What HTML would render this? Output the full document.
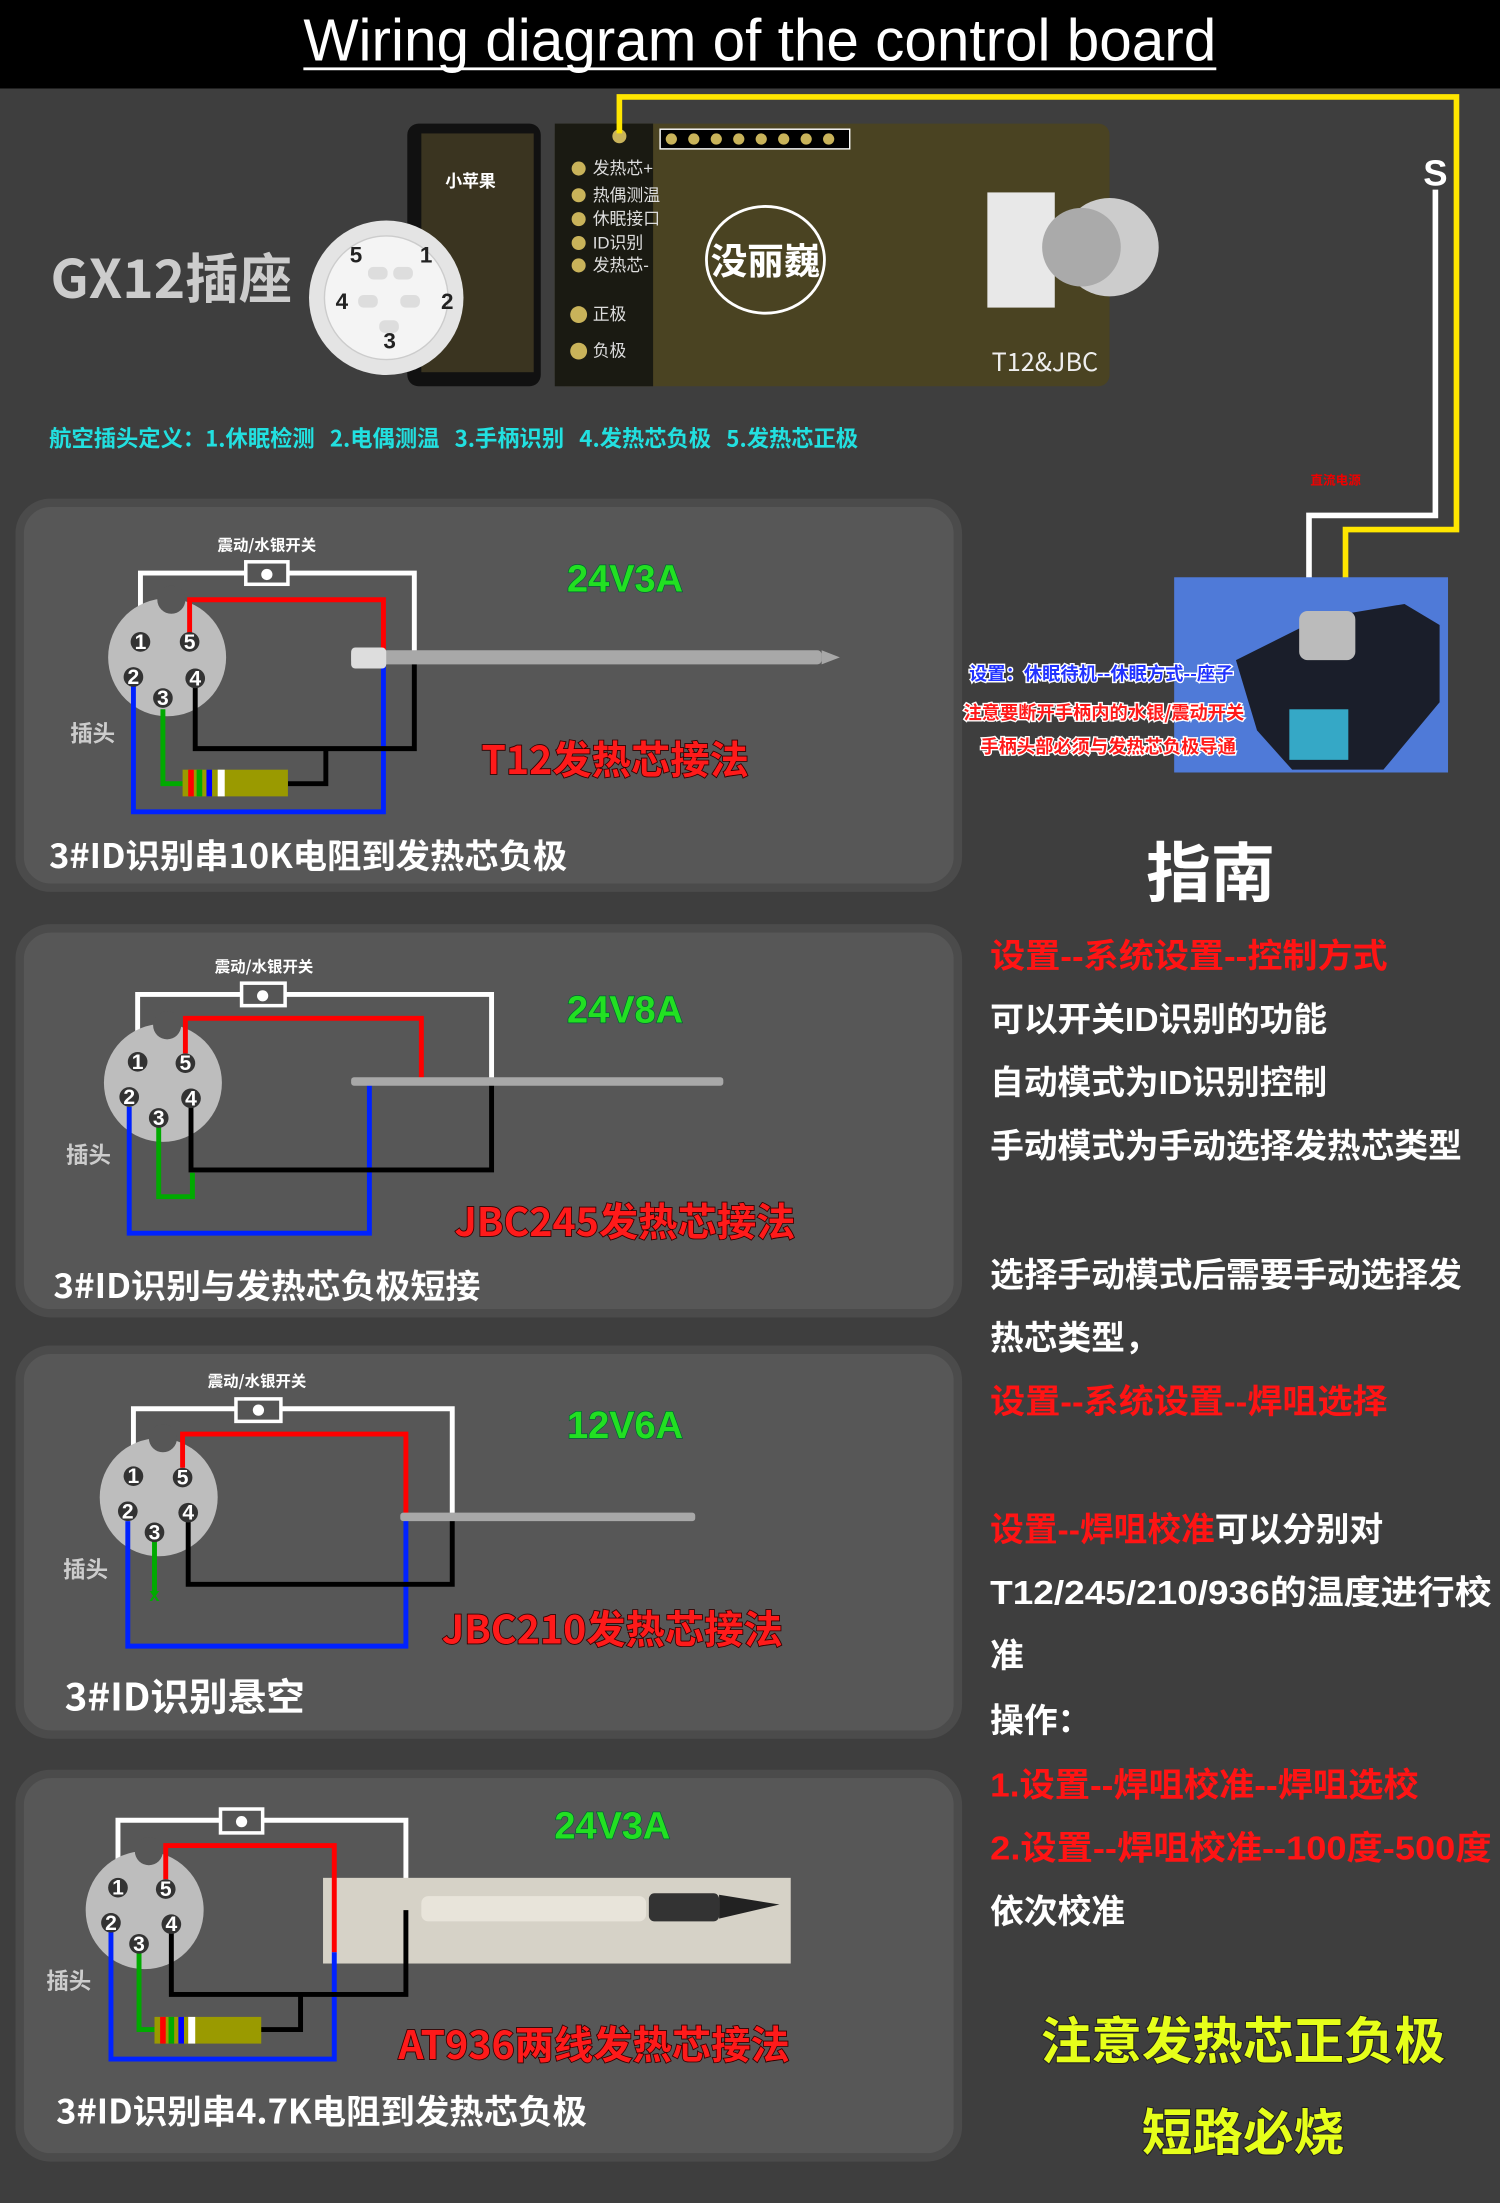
<!DOCTYPE html>
<html><head><meta charset="utf-8"><style>
html,body{margin:0;padding:0;background:#3e3e3e;}
svg{display:block;}
text{font-family:"Liberation Sans","Noto Sans CJK SC",sans-serif;}
.cj{font-family:"Noto Sans CJK SC","WenQuanYi Zen Hei",sans-serif;font-weight:700;}
.w{fill:none;stroke-width:3.5;stroke-linejoin:miter;}
.pin{fill:#333;}
.pn{fill:#fff;font-size:15px;font-weight:700;text-anchor:middle;}
.red{fill:#ff1a1a;stroke:#300;stroke-width:1.2;paint-order:stroke;}
.grn{fill:#22e022;stroke:#063;stroke-width:1;paint-order:stroke;}
.gd{fill:#fff;font-size:24px;}
.gr{fill:#ff1414;font-size:24px;}
</style></head><body>
<svg width="1500" height="2203" viewBox="0 0 1068 1568.5" preserveAspectRatio="none" xmlns="http://www.w3.org/2000/svg">
<rect x="0" y="0" width="1068" height="1569" fill="#3e3e3e"/>
<rect x="0" y="0" width="1068" height="63" fill="#000"/>
<text x="541" y="43" text-anchor="middle" fill="#fff" font-size="42" textLength="650" lengthAdjust="spacingAndGlyphs">Wiring diagram of the control board</text>
<rect x="216" y="48" width="650" height="2" fill="#fff"/>

<!-- PCB -->
<rect x="290" y="88" width="95" height="187" rx="8" fill="#111"/>
<rect x="395" y="88" width="395" height="187" rx="8" fill="#4a4322"/>
<rect x="395" y="88" width="70" height="187" fill="#1a1a12"/>
<rect x="300" y="95" width="80" height="170" fill="#3a3420"/>
<rect x="470" y="92" width="135" height="14" fill="#000" stroke="#fff" stroke-width="1"/>
<g fill="#c9b35a"><circle cx="478" cy="99" r="4"/><circle cx="494" cy="99" r="4"/><circle cx="510" cy="99" r="4"/><circle cx="526" cy="99" r="4"/><circle cx="542" cy="99" r="4"/><circle cx="558" cy="99" r="4"/><circle cx="574" cy="99" r="4"/><circle cx="590" cy="99" r="4"/><circle cx="441" cy="97" r="5"/></g>
<g fill="#ddd" font-size="12" class="cj" style="font-weight:400"><text x="422" y="124">发热芯+</text><text x="422" y="143">热偶测温</text><text x="422" y="160">休眠接口</text><text x="422" y="177">ID识别</text><text x="422" y="193">发热芯-</text><text x="422" y="228">正极</text><text x="422" y="254">负极</text></g>
<g fill="#c9b35a"><circle cx="412" cy="120" r="5"/><circle cx="412" cy="139" r="5"/><circle cx="412" cy="156" r="5"/><circle cx="412" cy="173" r="5"/><circle cx="412" cy="189" r="5"/><circle cx="412" cy="224" r="6"/><circle cx="412" cy="250" r="6"/></g>
<ellipse cx="545" cy="185" rx="42" ry="38" fill="none" stroke="#fff" stroke-width="2"/>
<text x="545" y="195" text-anchor="middle" fill="#fff" font-size="26" class="cj">没丽巍</text>
<text x="335" y="133" text-anchor="middle" fill="#fff" font-size="12" class="cj">小苹果</text>
<rect x="703" y="137" width="48" height="82" fill="#e8e8e8"/>
<circle cx="790" cy="176" r="35" fill="#ccc"/><circle cx="770" cy="176" r="28" fill="#aaa"/>
<text x="706" y="264" fill="#eee" font-size="18" class="cj" style="font-weight:400">T12&amp;JBC</text>
<text x="36" y="212" fill="#ccc" font-size="38" class="cj">GX12插座</text>
<circle cx="275" cy="212" r="55" fill="#e4e4e4"/><circle cx="275" cy="212" r="44" fill="#f4f4f4" stroke="#ccc"/>
<g fill="#222" font-size="16" font-weight="700"><text x="249" y="187">5</text><text x="299" y="187">1</text><text x="239" y="220">4</text><text x="314" y="220">2</text><text x="273" y="248">3</text></g>
<g fill="#ddd"><rect x="262" y="190" width="14" height="9" rx="4"/><rect x="280" y="190" width="14" height="9" rx="4"/><rect x="255" y="210" width="14" height="9" rx="4"/><rect x="285" y="210" width="14" height="9" rx="4"/><rect x="270" y="228" width="14" height="9" rx="4"/></g>
<text x="35" y="318" fill="#22e0e0" font-size="16" class="cj" textLength="576" lengthAdjust="spacingAndGlyphs">航空插头定义：1.休眠检测&#160;&#160;&#160;2.电偶测温&#160;&#160;&#160;3.手柄识别&#160;&#160;&#160;4.发热芯负极&#160;&#160;&#160;5.发热芯正极</text>

<!-- wires to station -->
<polyline points="441,95 441,69 1037,69 1037,377 958,377 958,430" fill="none" stroke="#ffe600" stroke-width="4"/>
<polyline points="1022,135 1022,367 932,367 932,440" fill="none" stroke="#fff" stroke-width="4"/>
<text x="1022" y="132" text-anchor="middle" fill="#fff" font-size="26" font-weight="700">S</text>
<text x="951" y="345" text-anchor="middle" fill="#e00" font-size="9" class="cj">直流电源</text>
<rect x="836" y="411" width="195" height="139" fill="#4f7ad8"/>
<path d="M880,470 L940,440 L1000,430 L1025,445 L1025,500 L985,548 L920,548 L895,520 Z" fill="#1a1e2a"/>
<rect x="918" y="505" width="42" height="36" fill="#35a8c6"/>
<rect x="925" y="435" width="40" height="35" rx="6" fill="#bbb"/>
<text x="690" y="484" fill="#2233ff" font-size="13" class="cj" stroke="#fff" stroke-width="2" paint-order="stroke">设置：休眠待机--休眠方式--座子</text>
<text x="686" y="512" fill="#ff1a1a" font-size="13" class="cj" stroke="#fff" stroke-width="2" paint-order="stroke">注意要断开手柄内的水银/震动开关</text>
<text x="698" y="536" fill="#ff1a1a" font-size="13" class="cj" stroke="#fff" stroke-width="2" paint-order="stroke">手柄头部必须与发热芯负极导通</text>

<!-- panels -->
<g fill="#575757" stroke="#4b4b4b" stroke-width="6">
<rect x="14" y="358" width="668" height="274" rx="22"/>
<rect x="14" y="661" width="668" height="274" rx="22"/>
<rect x="14" y="961" width="668" height="274" rx="22"/>
<rect x="14" y="1263" width="668" height="273" rx="22"/>
</g>

<!-- Panel 1 -->
<text x="190" y="392" text-anchor="middle" fill="#fff" font-size="11" class="cj">震动/水银开关</text>
<polyline class="w" stroke="#fff" points="100,450 100,408 295,408 295,470"/>
<rect x="175" y="400" width="30" height="16" fill="#555" stroke="#fff" stroke-width="2.5"/><circle cx="190" cy="409" r="4" fill="#fff"/>
<circle cx="119" cy="468" r="42" fill="#bdbdbd"/><circle cx="122" cy="427" r="10" fill="#575757"/>
<polyline class="w" stroke="#f00" points="135,452 135,427 273,427 273,472"/>
<polyline class="w" stroke="#0022ff" points="95,488 95,578 273,578 273,472"/>
<polyline class="w" stroke="#000" points="139,488 139,533 295,533 295,472"/>
<polyline class="w" stroke="#0a0" points="116,505 116,558 130,558"/>
<polyline class="w" stroke="#000" points="205,558 232,558 232,533"/>
<rect x="130" y="548" width="75" height="19" fill="#9a9a00"/><rect x="134" y="548" width="4" height="19" fill="#f00"/><rect x="140" y="548" width="4" height="19" fill="#0a0"/><rect x="147" y="548" width="4" height="19" fill="#00f"/><rect x="155" y="548" width="5" height="19" fill="#fff"/>
<g><circle cx="100" cy="457" r="7" class="pin"/><text x="100" y="462" class="pn">1</text><circle cx="135" cy="457" r="7" class="pin"/><text x="135" y="462" class="pn">5</text><circle cx="95" cy="482" r="7" class="pin"/><text x="95" y="487" class="pn">2</text><circle cx="139" cy="483" r="7" class="pin"/><text x="139" y="488" class="pn">4</text><circle cx="116" cy="497" r="7" class="pin"/><text x="116" y="502" class="pn">3</text></g>
<text x="50" y="528" fill="#ccc" font-size="16" class="cj">插头</text>
<rect x="250" y="463" width="335" height="10" rx="3" fill="#a8a8a8"/><path d="M585,463 L598,468 L585,473 Z" fill="#a8a8a8"/><rect x="250" y="461" width="25" height="15" rx="3" fill="#ddd"/>
<text x="445" y="421" text-anchor="middle" font-size="27" class="grn" font-weight="700">24V3A</text>
<text x="438" y="551" text-anchor="middle" font-size="28" class="red cj">T12发热芯接法</text>
<text x="35" y="618" fill="#fff" font-size="24" class="cj" textLength="369" lengthAdjust="spacingAndGlyphs">3#ID识别串10K电阻到发热芯负极</text>

<!-- Panel 2 -->
<text x="188" y="692" text-anchor="middle" fill="#fff" font-size="11" class="cj">震动/水银开关</text>
<polyline class="w" stroke="#fff" points="98,750 98,708 350,708 350,770"/>
<rect x="172" y="700" width="31" height="16" fill="#555" stroke="#fff" stroke-width="2.5"/><circle cx="187" cy="709" r="4" fill="#fff"/>
<circle cx="116" cy="771" r="42" fill="#bdbdbd"/><circle cx="119" cy="730" r="10" fill="#575757"/>
<polyline class="w" stroke="#f00" points="132,750 132,725 300,725 300,770"/>
<polyline class="w" stroke="#0022ff" points="92,788 92,878 263,878 263,771"/>
<polyline class="w" stroke="#000" points="136,788 136,833 350,833 350,770"/>
<polyline class="w" stroke="#0a0" points="113,802 113,852 137,852 137,835"/>
<g><circle cx="98" cy="756" r="7" class="pin"/><text x="98" y="761" class="pn">1</text><circle cx="132" cy="757" r="7" class="pin"/><text x="132" y="762" class="pn">5</text><circle cx="92" cy="781" r="7" class="pin"/><text x="92" y="786" class="pn">2</text><circle cx="136" cy="782" r="7" class="pin"/><text x="136" y="787" class="pn">4</text><circle cx="113" cy="796" r="7" class="pin"/><text x="113" y="801" class="pn">3</text></g>
<text x="47" y="828" fill="#ccc" font-size="16" class="cj">插头</text>
<rect x="250" y="767" width="265" height="6" rx="2" fill="#a8a8a8"/>
<text x="445" y="728" text-anchor="middle" font-size="27" class="grn" font-weight="700">24V8A</text>
<text x="445" y="880" text-anchor="middle" font-size="28" class="red cj">JBC245发热芯接法</text>
<text x="38" y="924" fill="#fff" font-size="24" class="cj" textLength="304" lengthAdjust="spacingAndGlyphs">3#ID识别与发热芯负极短接</text>

<!-- Panel 3 -->
<text x="183" y="987" text-anchor="middle" fill="#fff" font-size="11" class="cj">震动/水银开关</text>
<polyline class="w" stroke="#fff" points="95,1045 95,1003 322,1003 322,1078"/>
<rect x="168" y="996" width="32" height="16" fill="#555" stroke="#fff" stroke-width="2.5"/><circle cx="184" cy="1004" r="4" fill="#fff"/>
<circle cx="113" cy="1066" r="42" fill="#bdbdbd"/><circle cx="116" cy="1024" r="10" fill="#575757"/>
<polyline class="w" stroke="#f00" points="130,1045 130,1021 289,1021 289,1078"/>
<polyline class="w" stroke="#0022ff" points="91,1083 91,1172 289,1172 289,1078"/>
<polyline class="w" stroke="#000" points="134,1083 134,1128 322,1128 322,1078"/>
<polyline class="w" stroke="#0a0" points="110,1097 110,1135"/>
<text x="110" y="1140" text-anchor="middle" fill="#0a0" font-size="13" font-weight="700">x</text>
<g><circle cx="95" cy="1051" r="7" class="pin"/><text x="95" y="1056" class="pn">1</text><circle cx="130" cy="1052" r="7" class="pin"/><text x="130" y="1057" class="pn">5</text><circle cx="91" cy="1076" r="7" class="pin"/><text x="91" y="1081" class="pn">2</text><circle cx="134" cy="1077" r="7" class="pin"/><text x="134" y="1082" class="pn">4</text><circle cx="110" cy="1091" r="7" class="pin"/><text x="110" y="1096" class="pn">3</text></g>
<text x="45" y="1123" fill="#ccc" font-size="16" class="cj">插头</text>
<rect x="285" y="1077" width="210" height="6" rx="2" fill="#a8a8a8"/>
<text x="445" y="1024" text-anchor="middle" font-size="27" class="grn" font-weight="700">12V6A</text>
<text x="436" y="1170" text-anchor="middle" font-size="28" class="red cj">JBC210发热芯接法</text>
<text x="46" y="1218" fill="#fff" font-size="27" class="cj" textLength="171" lengthAdjust="spacingAndGlyphs">3#ID识别悬空</text>

<!-- Panel 4 -->
<polyline class="w" stroke="#fff" points="84,1338 84,1296 289,1296 289,1360"/>
<rect x="157" y="1288" width="30" height="17" fill="#555" stroke="#fff" stroke-width="2.5"/><circle cx="172" cy="1297" r="4" fill="#fff"/>
<circle cx="103" cy="1360" r="42" fill="#bdbdbd"/><circle cx="106" cy="1318" r="10" fill="#575757"/>
<rect x="230" y="1337" width="333" height="61" fill="#d6d2c7"/>
<rect x="300" y="1350" width="160" height="18" rx="5" fill="#e8e4da"/><rect x="462" y="1348" width="50" height="20" rx="4" fill="#333"/><path d="M512,1349 L555,1356 L512,1366 Z" fill="#222"/>
<polyline class="w" stroke="#f00" points="118,1338 118,1314 238,1314 238,1390"/>
<polyline class="w" stroke="#0022ff" points="79,1375 79,1466 238,1466 238,1390"/>
<polyline class="w" stroke="#000" points="122,1375 122,1420 289,1420 289,1360"/>
<polyline class="w" stroke="#0a0" points="99,1390 99,1445 110,1445"/>
<polyline class="w" stroke="#000" points="185,1445 214,1445 214,1420"/>
<rect x="110" y="1436" width="76" height="19" fill="#9a9a00"/><rect x="114" y="1436" width="4" height="19" fill="#f00"/><rect x="120" y="1436" width="4" height="19" fill="#0a0"/><rect x="127" y="1436" width="4" height="19" fill="#00f"/><rect x="134" y="1436" width="5" height="19" fill="#fff"/>
<g><circle cx="84" cy="1344" r="7" class="pin"/><text x="84" y="1349" class="pn">1</text><circle cx="118" cy="1345" r="7" class="pin"/><text x="118" y="1350" class="pn">5</text><circle cx="79" cy="1369" r="7" class="pin"/><text x="79" y="1374" class="pn">2</text><circle cx="122" cy="1370" r="7" class="pin"/><text x="122" y="1375" class="pn">4</text><circle cx="99" cy="1384" r="7" class="pin"/><text x="99" y="1389" class="pn">3</text></g>
<text x="33" y="1416" fill="#ccc" font-size="16" class="cj">插头</text>
<text x="436" y="1309" text-anchor="middle" font-size="27" class="grn" font-weight="700">24V3A</text>
<text x="423" y="1466" text-anchor="middle" font-size="28" class="red cj">AT936两线发热芯接法</text>
<text x="40" y="1512" fill="#fff" font-size="24" class="cj" textLength="378" lengthAdjust="spacingAndGlyphs">3#ID识别串4.7K电阻到发热芯负极</text>

<!-- guide -->
<text x="862" y="638" text-anchor="middle" fill="#fff" font-size="46" class="cj">指南</text>
<g class="cj">
<text x="705" y="689" class="gr" textLength="283" lengthAdjust="spacingAndGlyphs">设置--系统设置--控制方式</text>
<text x="705" y="734" class="gd">可以开关ID识别的功能</text>
<text x="705" y="779" class="gd">自动模式为ID识别控制</text>
<text x="705" y="824" class="gd">手动模式为手动选择发热芯类型</text>
<text x="705" y="916" class="gd">选择手动模式后需要手动选择发</text>
<text x="705" y="961" class="gd">热芯类型，</text>
<text x="705" y="1006" class="gr" textLength="283" lengthAdjust="spacingAndGlyphs">设置--系统设置--焊咀选择</text>
<text x="705" y="1097"><tspan class="gr">设置--焊咀校准</tspan><tspan class="gd">可以分别对</tspan></text>
<text x="705" y="1142" class="gd" textLength="357" lengthAdjust="spacingAndGlyphs">T12/245/210/936的温度进行校</text>
<text x="705" y="1187" class="gd">准</text>
<text x="705" y="1233" class="gd">操作：</text>
<text x="705" y="1279" class="gr" textLength="305" lengthAdjust="spacingAndGlyphs">1.设置--焊咀校准--焊咀选校</text>
<text x="705" y="1324" class="gr" textLength="357" lengthAdjust="spacingAndGlyphs">2.设置--焊咀校准--100度-500度</text>
<text x="705" y="1369" class="gd">依次校准</text>
<text x="885" y="1466" text-anchor="middle" fill="#e6ff1a" font-size="36" stroke="#222" stroke-width="1.5" paint-order="stroke">注意发热芯正负极</text>
<text x="885" y="1531" text-anchor="middle" fill="#e6ff1a" font-size="36" stroke="#222" stroke-width="1.5" paint-order="stroke">短路必烧</text>
</g>
</svg>
</body></html>
